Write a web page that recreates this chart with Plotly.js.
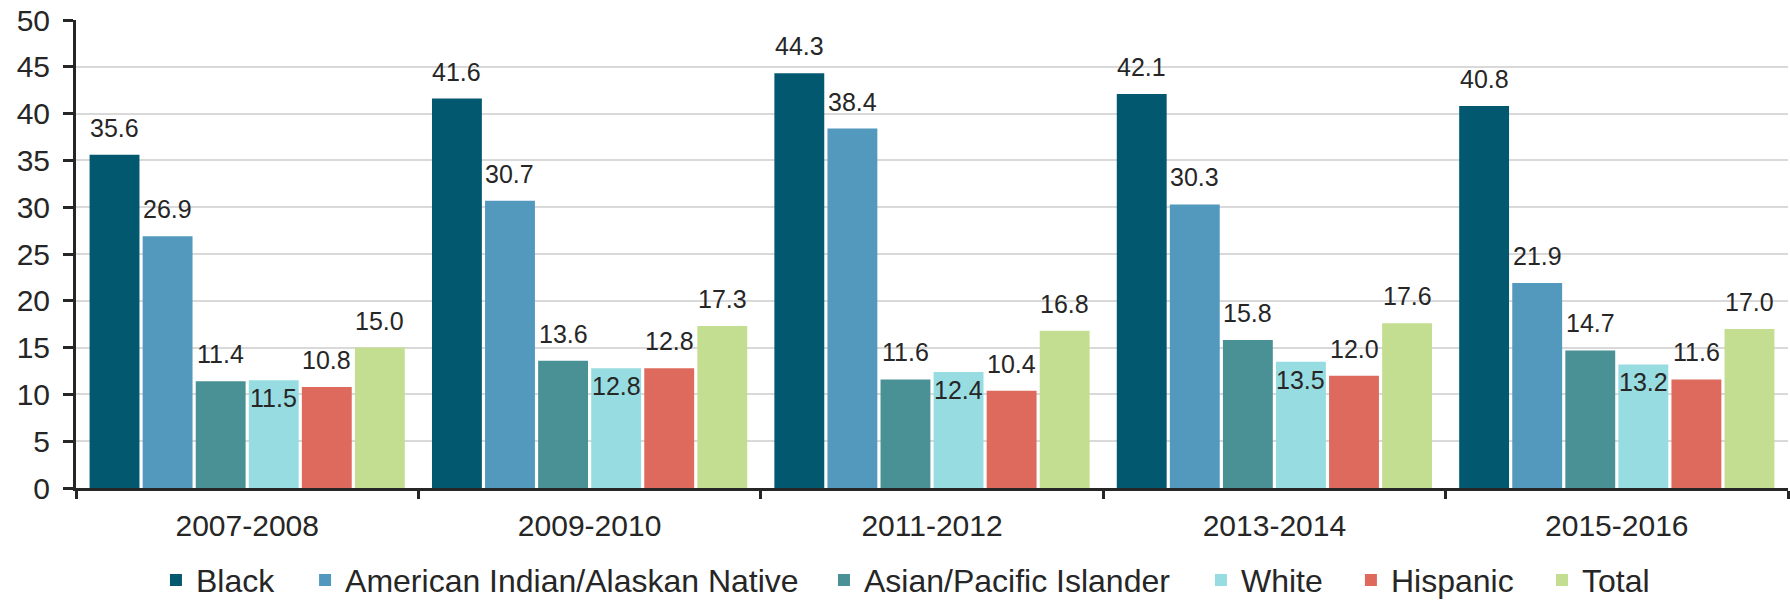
<!DOCTYPE html>
<html>
<head>
<meta charset="utf-8">
<script src="https://cdn.plot.ly/plotly-3.0.1.min.js"></script>
<style>
  html, body { margin: 0; padding: 0; background: #ffffff; }
  #chart { width: 1790px; height: 602px; }
</style>
</head>
<body>
<div id="chart"></div>
<script>
// ---- data ----
const categories = ["2007-2008", "2009-2010", "2011-2012", "2013-2014", "2015-2016"];
const seriesNames = ["Black", "American Indian/Alaskan Native", "Asian/Pacific Islander", "White", "Hispanic", "Total"];
const black    = [35.6, 41.6, 44.3, 42.1, 40.8];
const amIndian = [26.9, 30.7, 38.4, 30.3, 21.9];
const asianPI  = [11.4, 13.6, 11.6, 15.8, 14.7];
const white    = [11.5, 12.8, 12.4, 13.5, 13.2];
const hispanic = [10.8, 12.8, 10.4, 12.0, 11.6];
const total    = [15.0, 17.3, 16.8, 17.6, 17.0];
const seriesValues = [black, amIndian, asianPI, white, hispanic, total];
const colors = ["#02586f", "#5399be", "#4a9196", "#97dce1", "#de6a5e", "#c4de91"];
// labels drawn inside the top of the bar (as in the reference)
const insideLabelSeries = ["White"];

// ---- style ----
const FONT = "Liberation Sans, Arial, Helvetica, sans-serif";
const TEXT = "#262626";
const BARGAP = 0.07;
const BARGROUPGAP = 0.06;
// legend entry left positions (paper x), one legend per series to match spacing
const legendX = [0.0467, 0.1338, 0.4369, 0.6571, 0.7447, 0.8563];
const legendIds = ["legend", "legend2", "legend3", "legend4", "legend5", "legend6"];

const traces = seriesNames.map((name, j) => ({
  type: "bar",
  name: name,
  x: categories,
  y: seriesValues[j],
  legend: legendIds[j],
  marker: { color: colors[j], line: { width: 0 } },
  hoverinfo: "skip"
}));

// data labels placed through the x/y axes at each bar's centre
const nS = seriesNames.length;
const slot = (1 - BARGAP) / nS;
const annotations = [];
seriesNames.forEach((name, j) => {
  const inside = insideLabelSeries.includes(name);
  seriesValues[j].forEach((v, i) => {
    annotations.push({
      xref: "x", yref: "y",
      x: i - (1 - BARGAP) / 2 + (j + 0.5) * slot,
      y: v,
      text: v.toFixed(1),
      showarrow: false,
      xanchor: "center",
      yanchor: inside ? "top" : "bottom",
      yshift: inside ? -2 : 11,
      font: { family: FONT, size: 25, color: TEXT }
    });
  });
});

const layout = {
  width: 1790, height: 602,
  margin: { l: 76, r: 2, t: 20, b: 114, pad: 0, autoexpand: false },
  paper_bgcolor: "#ffffff",
  plot_bgcolor: "#ffffff",
  barmode: "group",
  bargap: BARGAP,
  bargroupgap: BARGROUPGAP,
  font: { family: FONT, size: 30, color: TEXT },
  showlegend: true,
  xaxis: {
    type: "category",
    showline: true, linecolor: TEXT, linewidth: 3,
    ticks: "outside", tickson: "boundaries", ticklen: 8, tickwidth: 3, tickcolor: TEXT,
    ticklabelstandoff: 9,
    showgrid: false, zeroline: false,
    tickfont: { family: FONT, size: 30, color: TEXT },
    fixedrange: true
  },
  yaxis: {
    range: [0, 50], dtick: 5, tick0: 0,
    showline: true, linecolor: TEXT, linewidth: 3,
    ticks: "outside", ticklen: 10, tickwidth: 3, tickcolor: TEXT,
    ticklabelstandoff: 7,
    showgrid: true, gridcolor: "#d9d9d9", gridwidth: 2,
    zeroline: false,
    tickfont: { family: FONT, size: 30, color: TEXT },
    fixedrange: true
  },
  annotations: annotations
};
legendIds.forEach((id, j) => {
  layout[id] = {
    orientation: "h",
    x: legendX[j], xanchor: "left",
    y: -0.138, yanchor: "top",
    font: { family: FONT, size: 32, color: TEXT },
    bgcolor: "rgba(0,0,0,0)",
    borderwidth: 0
  };
});

Plotly.newPlot("chart", traces, layout, { displayModeBar: false, staticPlot: true });
</script>
</body>
</html>
